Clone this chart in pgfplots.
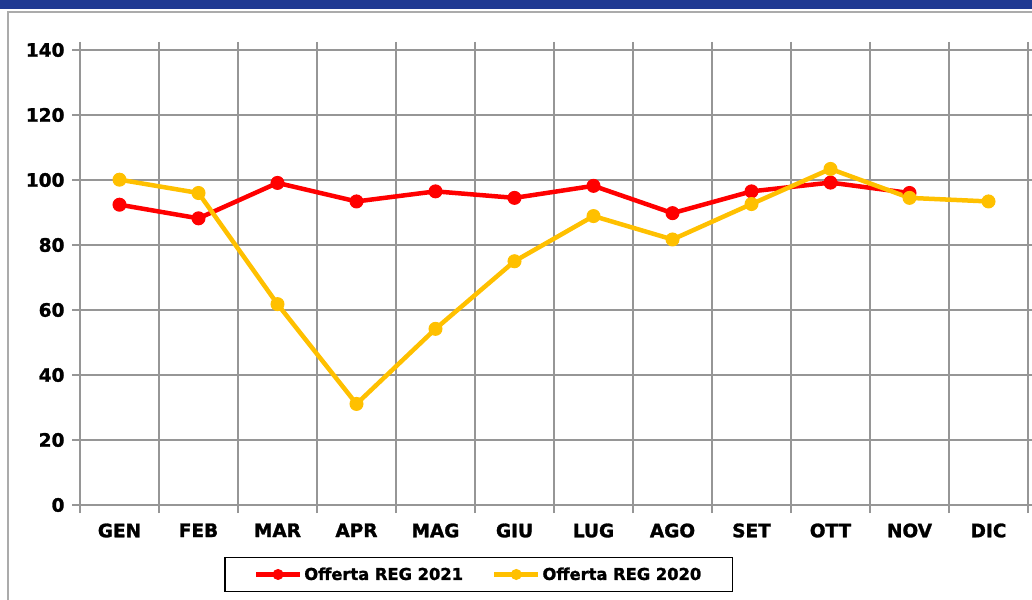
\documentclass[border=0pt]{standalone}
\usepackage{fontspec}
\setmainfont{DejaVu Sans}[BoldFeatures={FakeBold=1.5}]
\usepackage{pgfplots}
\pgfplotsset{compat=1.18}
\definecolor{band}{RGB}{32,58,146}
\definecolor{gridgray}{RGB}{150,150,150}
\definecolor{ser21}{RGB}{255,0,0}
\definecolor{ser20}{RGB}{255,192,0}
\begin{document}
\begin{tikzpicture}
\useasboundingbox (0pt,0pt) rectangle (1032pt,599pt);
\fill[band] (0pt,590pt) rectangle (1032pt,599pt);
\draw[gridgray!80, line width=2pt] (8pt,-5pt) -- (8pt,587pt) -- (1040pt,587pt);
\begin{axis}[
  at={(80pt,94pt)}, anchor=south west, scale only axis,
  width=948pt, height=455pt,
  xmin=-0.5, xmax=11.5, ymin=0, ymax=140,
  xtick={0,...,11},
  xticklabels={GEN,FEB,MAR,APR,MAG,GIU,LUG,AGO,SET,OTT,NOV,DIC},
  minor xtick={-0.5,0.5,...,11.5},
  ytick={0,20,...,140},
  major x tick style={draw=none},
  tick align=outside,
  major tick length=8pt, minor tick length=8pt,
  ymajorgrids, xminorgrids,
  grid style={gridgray, line width=1.5pt},
  minor grid style={gridgray, line width=1.5pt},
  axis line style={gridgray, line width=1.5pt},
  every tick/.style={gridgray, line width=1.5pt},
  tick label style={font=\fontsize{18.5}{21}\selectfont\bfseries, black},
  xticklabel style={yshift=-7pt},
  yticklabel style={xshift=-4pt},
  /pgf/number format/assume math mode=true,
  legend columns=2,
  legend style={at={(0.4204,-0.1527)}, anchor=center, draw=black, line width=1.5pt,
    font=\fontsize{16.3}{19}\selectfont\bfseries,
    inner xsep=29pt, inner ysep=8pt,
    /tikz/every even column/.append style={column sep=27pt}},
  legend image code/.code={\draw[mark repeat=2,mark phase=2,mark size=5pt] plot coordinates {(0pt,0pt) (22pt,0pt) (44pt,0pt)};},
]
\addplot[ser21, line width=4.5pt, mark=*, mark size=6.5pt, mark options={solid, line width=1pt}] coordinates {
(0,92.4) (1,88.2) (2,99.1) (3,93.4) (4,96.5) (5,94.5) (6,98.2) (7,89.8) (8,96.5) (9,99.2) (10,96.0)};
\addlegendentry{Offerta REG 2021}
\addplot[ser20, line width=4.5pt, mark=*, mark size=6.5pt, mark options={solid, line width=1pt}] coordinates {
(0,100.1) (1,96.0) (2,61.8) (3,31.1) (4,54.2) (5,75.0) (6,88.9) (7,81.7) (8,92.6) (9,103.4) (10,94.5) (11,93.4)};
\addlegendentry{Offerta REG 2020}
\end{axis}
\end{tikzpicture}
\end{document}
